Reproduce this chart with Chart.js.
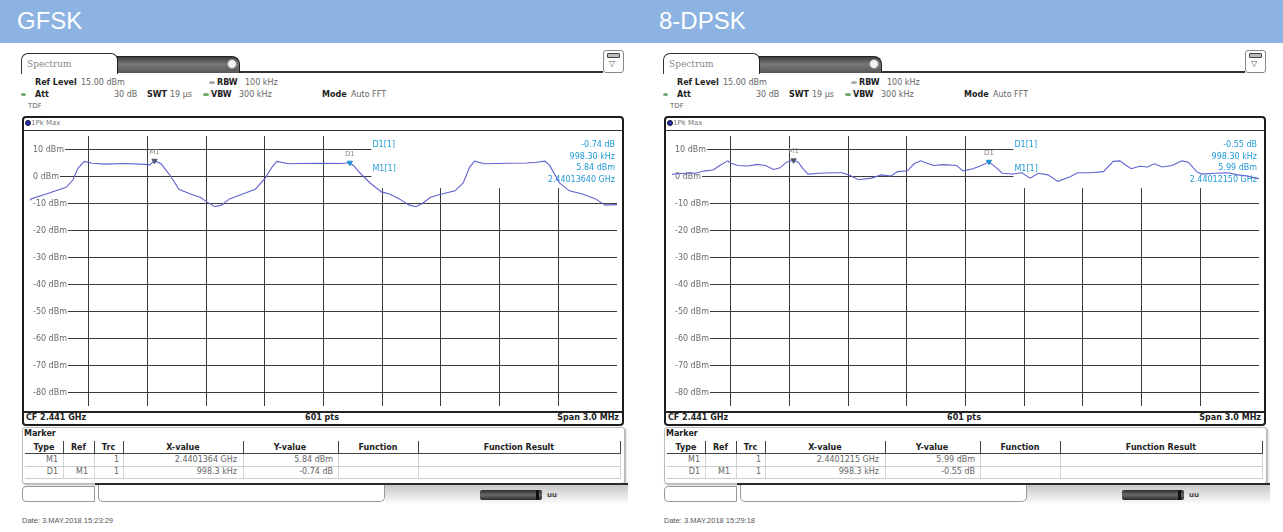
<!DOCTYPE html>
<html><head><meta charset="utf-8">
<script src="https://cdn.jsdelivr.net/npm/chart.js@4.4.1/dist/chart.umd.min.js"></script>
<style>
html,body{margin:0;padding:0;background:#fff;width:1283px;height:532px;overflow:hidden;font-family:"DejaVu Sans",Verdana,sans-serif;}
.panel{position:absolute;top:0;width:641px;height:532px;}
.t{position:absolute;white-space:nowrap;font-size:8px;line-height:10px;color:#666;}
.b{font-weight:bold;color:#222;}
.r{position:absolute;box-sizing:border-box;}
canvas{position:absolute;}
</style></head><body>
<div class="r" style="left:0;top:0;width:1283px;height:43px;background:#8db3e2"></div>
<script>
// ---------- DATA ----------
const yTickValues = [10, 0, -10, -20, -30, -40, -50, -60, -70, -80];
const xGridMHz = [-1.2, -0.9, -0.6, -0.3, 0, 0.3, 0.6, 0.9, 1.2];

const gfskFreqMHz = [-1.500,-1.495,-1.398,-1.315,-1.281,-1.255,-1.223,-1.181,-1.114,-1.014,
  -0.914,-0.889,-0.864,-0.830,-0.780,-0.739,-0.680,-0.630,-0.597,-0.555,
  -0.522,-0.480,-0.413,-0.348,-0.298,-0.263,-0.238,-0.179,-0.113,-0.013,
  0.088,0.133,0.153,0.188,0.238,0.296,0.338,0.388,0.438,0.472,
  0.505,0.547,0.605,0.672,0.714,0.747,0.772,0.822,0.939,1.039,
  1.089,1.131,1.156,1.206,1.256,1.323,1.390,1.439,1.490,1.500];
const gfskLevelDbm = [-8.6,-8.3,-6.0,-4.0,-1.3,3.0,5.6,4.9,4.6,4.8,
  4.5,4.3,5.84,4.7,0.0,-4.7,-6.5,-7.7,-9.4,-11.2,
  -10.6,-8.3,-6.5,-4.7,-0.6,3.5,5.6,4.7,4.8,4.9,
  4.8,5.1,4.1,1.2,-2.4,-5.7,-6.5,-8.3,-10.6,-11.2,
  -10.0,-7.7,-6.5,-5.3,-2.4,3.5,5.7,4.7,4.9,5.0,
  5.3,5.7,4.1,-2.4,-5.3,-6.5,-8.3,-10.6,-10.4,-10.4];

const dpskFreqMHz = [-1.500,-1.490,-1.415,-1.381,-1.331,-1.290,-1.256,-1.215,-1.198,-1.164,
  -1.114,-1.064,-1.023,-0.981,-0.948,-0.914,-0.879,-0.855,-0.831,-0.805,
  -0.747,-0.680,-0.630,-0.597,-0.547,-0.480,-0.430,-0.380,-0.347,-0.297,
  -0.263,-0.229,-0.196,-0.163,-0.113,-0.046,-0.013,0.038,0.078,0.120,
  0.154,0.188,0.238,0.288,0.330,0.372,0.422,0.472,0.538,0.572,
  0.639,0.705,0.755,0.789,0.822,0.847,0.889,0.931,0.964,1.006,
  1.056,1.106,1.139,1.181,1.206,1.273,1.340,1.390,1.439,1.481,1.500];
const dpskLevelDbm = [0.8,0.9,1.3,1.2,2.1,2.4,4.1,5.8,4.9,4.1,
  3.9,4.5,4.1,2.6,3.2,5.3,5.99,5.3,2.9,0.9,
  1.2,1.4,1.4,0.6,-1.2,-0.6,0.6,0.2,1.8,2.1,
  4.7,5.8,4.9,4.1,4.4,4.1,2.1,2.9,4.0,5.44,
  3.5,1.2,0.9,1.4,-0.6,1.2,0.6,-1.8,0.0,1.4,
  1.4,1.8,5.6,5.8,4.1,2.9,3.8,3.5,4.7,3.5,
  4.1,5.8,5.3,1.8,0.9,1.2,1.4,0.6,0.2,-0.6,-0.8];

const markerNames = ['M1', 'D1'];
const gfskMarkerFreqMHz = [-0.8636, 0.1347];
const gfskMarkerLevelDbm = [5.84, 5.10];
const dpskMarkerFreqMHz = [-0.8785, 0.1198];
const dpskMarkerLevelDbm = [5.99, 5.44];

const gfskInfo = ['-0.74 dB', '998.30 kHz', '5.84 dBm', '2.44013640 GHz'];
const dpskInfo = ['-0.55 dB', '998.30 kHz', '5.99 dBm', '2.44012150 GHz'];
const gfskTableX = ['2.4401364 GHz', '998.3 kHz'];
const gfskTableY = ['5.84 dBm', '-0.74 dB'];
const dpskTableX = ['2.4401215 GHz', '998.3 kHz'];
const dpskTableY = ['5.99 dBm', '-0.55 dB'];

// ---------- helpers ----------
function T(p, x, y, text, cls, st, align) {
  const d = document.createElement('div');
  d.className = 't ' + (cls || '');
  d.style.left = x + 'px'; d.style.top = (y - 5) + 'px';
  if (align === 'r') d.style.transform = 'translateX(-100%)';
  if (align === 'c') d.style.transform = 'translateX(-50%)';
  d.textContent = text;
  if (st) Object.assign(d.style, st);
  p.appendChild(d); return d;
}
function R(p, x, y, w, h, st) {
  const d = document.createElement('div');
  d.className = 'r';
  Object.assign(d.style, {left: x + 'px', top: y + 'px', width: w + 'px', height: h + 'px'}, st || {});
  p.appendChild(d); return d;
}

const infoPlugin = {
  id: 'info',
  beforeDatasetsDraw(chart, args, opts) {
    const {ctx, chartArea: a, scales: {x, y}} = chart;
    const left = x.getPixelForValue(opts.boxFromMHz);
    const bottom = y.getPixelForValue(opts.boxToDbm);
    ctx.save();
    ctx.fillStyle = '#fff';
    ctx.fillRect(left, a.top, a.right - left, bottom - a.top);
    ctx.font = '8px "DejaVu Sans"';
    ctx.fillStyle = '#1f9ad6';
    ctx.textBaseline = 'middle';
    ctx.textAlign = 'left';
    ctx.fillText('D1[1]', left + 1, a.top + 9);
    ctx.fillText('M1[1]', left + 1, a.top + 33);
    ctx.textAlign = 'right';
    opts.lines.forEach((t, i) => ctx.fillText(t, a.right - 2, a.top + 9 + i * 11.7));
    ctx.restore();
  },
  afterDatasetsDraw(chart) {
    const {ctx} = chart;
    const meta = chart.getDatasetMeta(0);
    ctx.save();
    ctx.font = '7px "DejaVu Sans"';
    ctx.fillStyle = '#888';
    ctx.textAlign = 'center';
    ctx.textBaseline = 'middle';
    meta.data.forEach((pt, i) => ctx.fillText(markerNames[i], pt.x, pt.y - 9));
    ctx.restore();
  }
};

function makeChart(canvas, freq, level, mFreq, mLevel, info) {
  return new Chart(canvas.getContext('2d'), {
    type: 'line',
    data: {datasets: [
      {type: 'scatter', data: mFreq.map((f, i) => ({x: f, y: mLevel[i]})),
       pointStyle: 'triangle', rotation: 180, pointRadius: 3,
       pointBackgroundColor: ['#4d5b6b', '#1f8fd0'], pointBorderColor: ['#4d5b6b', '#1f8fd0'],
       pointBorderWidth: 1, order: 0},
      {data: freq.map((f, i) => ({x: f, y: level[i]})), borderColor: '#5f62cf',
       borderWidth: 1.1, pointRadius: 0, tension: 0, order: 1}
    ]},
    options: {
      responsive: false, animation: false, maintainAspectRatio: false,
      layout: {padding: 0},
      plugins: {legend: {display: false}, tooltip: {enabled: false},
        info: {boxFromMHz: 0.245, boxToDbm: -4.3, lines: info}},
      scales: {
        x: {type: 'linear', min: -1.5, max: 1.5,
            afterBuildTicks: s => { s.ticks = xGridMHz.map(v => ({value: v})); },
            grid: {color: '#3a3a3a', lineWidth: 1, drawTicks: false},
            border: {display: false}, ticks: {display: false}},
        y: {type: 'linear', min: -85, max: 15,
            afterBuildTicks: s => { s.ticks = yTickValues.map(v => ({value: v})); },
            afterFit: s => { s.paddingTop = 0; s.paddingBottom = 0; },
            grid: {color: '#3a3a3a', lineWidth: 1, drawTicks: false},
            border: {display: false},
            ticks: {mirror: true, padding: 3, color: '#6a6a6a',
                    font: {size: 8, family: '"DejaVu Sans"'},
                    callback: v => v + ' dBm',
                    showLabelBackdrop: true, backdropColor: '#fff',
                    backdropPadding: {left: 4, right: 1, top: 0, bottom: 0}}}
      }
    },
    plugins: [infoPlugin]
  });
}

function buildPanel(ox, cfg) {
  const p = document.createElement('div');
  p.className = 'panel'; p.style.left = ox + 'px';
  document.body.appendChild(p);
  // title
  T(p, 17, 22, cfg.title, '', {fontFamily: '"Liberation Sans",Arial,sans-serif', fontSize: '24px',
    lineHeight: '28px', color: '#fff', top: '7px'});
  // tabs
  R(p, 21, 53, 97, 21, {background: '#fff', border: '1.5px solid #333', borderBottom: 'none', borderRadius: '7px 7px 0 0'});
  T(p, 27, 64, 'Spectrum', '', {fontSize: '9px', color: '#8a8a8a', fontFamily: '"DejaVu Serif",serif'});
  R(p, 117, 56, 123, 17, {background: 'linear-gradient(#3e3e3e,#7a7a7a 45%,#555)', border: '1.5px solid #222',
    borderBottom: 'none', borderRadius: '0 8px 0 0'});
  R(p, 227, 59, 10, 10, {background: '#f2f2f2', borderRadius: '50%', border: '1px solid #888'});
  R(p, 240, 71, 363, 2, {background: '#333'});
  // icon
  R(p, 603, 50, 21, 23, {border: '1px solid #888', borderRadius: '3px', background: '#fff'});
  R(p, 607, 53, 13, 5, {border: '1.5px solid #444', borderRadius: '1px', background: '#bbb'});
  T(p, 609, 64, '▽', '', {fontSize: '8px', color: '#555'});
  // header lines
  T(p, 35, 83, 'Ref Level', 'b');
  T(p, 81, 83, '15.00 dBm');
  R(p, 209, 81, 6, 3, {background: '#aaa', borderRadius: '50%'});
  T(p, 217, 83, 'RBW', 'b');
  T(p, 245, 83, '100 kHz');
  R(p, 21, 93, 5, 3, {background: '#6aa86a', borderRadius: '50%'});
  T(p, 35, 95, 'Att', 'b');
  T(p, 114, 95, '30 dB');
  T(p, 147, 95, 'SWT', 'b');
  T(p, 170, 95, '19 µs');
  R(p, 203, 93, 6, 3, {background: '#6aa86a', borderRadius: '50%'});
  T(p, 211, 95, 'VBW', 'b');
  T(p, 239, 95, '300 kHz');
  T(p, 322, 95, 'Mode', 'b');
  T(p, 351, 95, 'Auto FFT');
  T(p, 28, 106, 'TDF', '', {fontSize: '7px'});
  // frame
  R(p, 22, 116, 602, 310, {border: '2px solid #1c1c1c', borderRadius: '4px'});
  R(p, 25, 120, 6, 6, {background: '#2a2fb0', borderRadius: '50%', border: '1px solid #113'});
  T(p, 31, 123, '1Pk Max', '', {fontSize: '7px', color: '#777'});
  R(p, 23, 129.5, 600, 1.5, {background: '#333'});
  R(p, 23, 411, 600, 1.5, {background: '#222'});
  T(p, 26, 418, 'CF 2.441 GHz', 'b');
  T(p, 322, 418, '601 pts', 'b', null, 'c');
  T(p, 619, 418, 'Span 3.0 MHz', 'b', null, 'r');
  // canvas
  const cv = document.createElement('canvas');
  cv.width = 598; cv.height = 280;
  cv.style.left = '24px'; cv.style.top = '131px';
  cv.style.width = '598px'; cv.style.height = '280px';
  p.appendChild(cv);
  makeChart(cv, cfg.freq, cfg.level, cfg.mFreq, cfg.mLevel, cfg.info);
  // marker table
  R(p, 22, 427, 603, 57, {border: '1px solid #bbb', borderRadius: '3px', boxShadow: '1px 1px 2px #aaa', background: '#fff'});
  T(p, 24, 434, 'Marker', 'b');
  const seps = [63, 94, 123, 243, 338, 418, 620];
  seps.forEach(s => { R(p, s, 441, 1, 12, {background: '#444'}); R(p, s, 454, 1, 25, {background: '#d4d4d4'}); });
  R(p, 25, 453, 596, 1, {background: '#444'});
  R(p, 25, 466, 596, 1, {background: '#ccc'});
  R(p, 25, 478, 596, 1, {background: '#ccc'});
  T(p, 44, 448, 'Type', 'b', null, 'c');
  T(p, 78.5, 448, 'Ref', 'b', null, 'c');
  T(p, 108.5, 448, 'Trc', 'b', null, 'c');
  T(p, 183, 448, 'X-value', 'b', null, 'c');
  T(p, 290, 448, 'Y-value', 'b', null, 'c');
  T(p, 378, 448, 'Function', 'b', null, 'c');
  T(p, 519, 448, 'Function Result', 'b', null, 'c');
  T(p, 58, 460, 'M1', '', null, 'r');
  T(p, 119, 460, '1', '', null, 'r');
  T(p, 237, 460, cfg.tx[0], '', null, 'r');
  T(p, 333, 460, cfg.ty[0], '', null, 'r');
  T(p, 58, 472, 'D1', '', null, 'r');
  T(p, 88, 472, 'M1', '', null, 'r');
  T(p, 119, 472, '1', '', null, 'r');
  T(p, 237, 472, cfg.tx[1], '', null, 'r');
  T(p, 333, 472, cfg.ty[1], '', null, 'r');
  // status bar
  R(p, 385, 485, 243, 20, {background: 'linear-gradient(#c8c8c8,#fff)'});
  R(p, 95, 483, 533, 2, {background: '#2a2a2a'});
  R(p, 22, 486, 73, 16, {border: '1px solid #999', borderRadius: '4px 0 0 4px', background: '#fff'});
  R(p, 98, 485, 287, 17, {border: '1px solid #999', borderTop: 'none', borderRadius: '0 0 5px 5px', background: '#fff'});
  R(p, 480, 490, 62, 10, {background: 'linear-gradient(#2b2b2b,#6a6a6a 50%,#2b2b2b)', borderRadius: '2px'});
  R(p, 536, 490, 3, 10, {background: '#111'});
  T(p, 547, 495, 'uu', 'b', {fontSize: '7px', color: '#444'});
  // date
  T(p, 22, 521, cfg.date, '', {fontFamily: '"Liberation Sans",Arial,sans-serif', fontSize: '7.5px', color: '#555'});
}

buildPanel(0, {title: 'GFSK', freq: gfskFreqMHz, level: gfskLevelDbm, mFreq: gfskMarkerFreqMHz,
  mLevel: gfskMarkerLevelDbm, info: gfskInfo, tx: gfskTableX, ty: gfskTableY,
  date: 'Date: 3.MAY.2018  15:23:29'});
buildPanel(642, {title: '8-DPSK', freq: dpskFreqMHz, level: dpskLevelDbm, mFreq: dpskMarkerFreqMHz,
  mLevel: dpskMarkerLevelDbm, info: dpskInfo, tx: dpskTableX, ty: dpskTableY,
  date: 'Date: 3.MAY.2018  15:29:18'});
</script>
</body></html>
